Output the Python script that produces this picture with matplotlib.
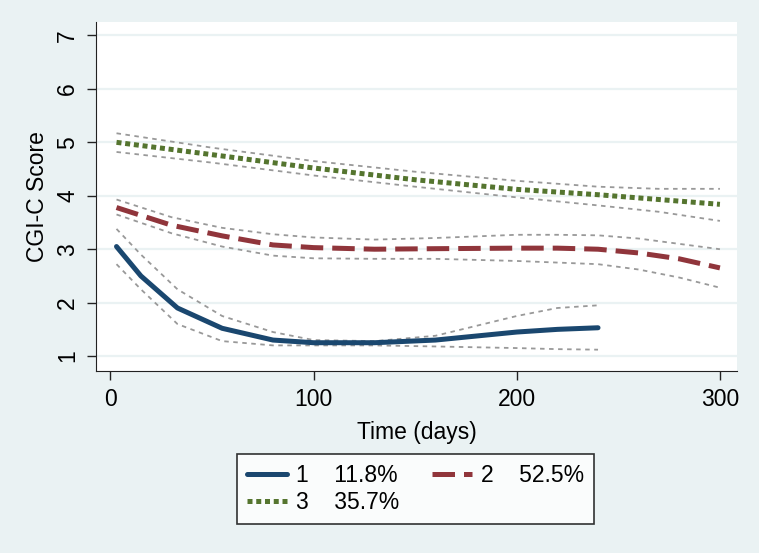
import matplotlib.pyplot as plt
import numpy as np

plt.rcParams['font.family'] = ['Liberation Sans', 'DejaVu Sans']

# group 1 (11.8%)
days1 = [3, 15, 33, 55, 80, 100, 130, 160, 200, 220, 240]
mean1 = [3.05, 2.5, 1.9, 1.52, 1.3, 1.25, 1.25, 1.3, 1.45, 1.5, 1.53]
up1 = [3.38, 2.9, 2.25, 1.75, 1.45, 1.3, 1.28, 1.38, 1.75, 1.9, 1.95]
lo1 = [2.72, 2.25, 1.6, 1.28, 1.2, 1.2, 1.2, 1.18, 1.15, 1.13, 1.12]

# group 2 (52.5%)
days2 = [3, 30, 55, 80, 100, 130, 160, 200, 220, 240, 260, 280, 300]
mean2 = [3.78, 3.45, 3.25, 3.08, 3.03, 3.0, 3.01, 3.02, 3.02, 3.0, 2.93, 2.82, 2.65]
up2 = [3.93, 3.6, 3.4, 3.28, 3.22, 3.18, 3.21, 3.27, 3.27, 3.26, 3.2, 3.1, 3.0]
lo2 = [3.65, 3.3, 3.05, 2.88, 2.83, 2.82, 2.82, 2.78, 2.75, 2.72, 2.62, 2.47, 2.28]

# group 3 (35.7%)
days3 = [3, 50, 100, 150, 200, 240, 270, 300]
mean3 = [5.0, 4.77, 4.52, 4.3, 4.12, 4.02, 3.93, 3.84]
up3 = [5.17, 4.9, 4.65, 4.45, 4.28, 4.17, 4.13, 4.13]
lo3 = [4.82, 4.62, 4.38, 4.17, 3.97, 3.82, 3.7, 3.53]

labels = ['1    11.8%', '2    52.5%', '3    35.7%']
colors = ['#1a476f', '#90353b', '#55752f']

bg = '#eaf2f3'
fs = 16.5
fig = plt.figure(figsize=(7.59, 5.53), dpi=100, facecolor=bg)
ax = fig.add_axes([0.127, 0.33, 0.844, 0.63])
ax.set_facecolor('white')

for y in range(1, 8):
    ax.axhline(y, color=bg, lw=1.6, zorder=0)

ci = dict(color='#999999', lw=1.3, ls=(0, (2.5, 2.5)), zorder=1)
for d, u, l in [(days1, up1, lo1), (days2, up2, lo2), (days3, up3, lo3)]:
    ax.plot(d, u, **ci)
    ax.plot(d, l, **ci)

h1, = ax.plot(days1, mean1, color=colors[0], lw=3.6, solid_capstyle='round', zorder=3)
h2, = ax.plot(days2, mean2, color=colors[1], lw=3.6, ls=(0, (4.5, 1.8)), zorder=3)
h3, = ax.plot(days3, mean3, color=colors[2], lw=3.6, ls=(0, (1.0, 0.75)), zorder=3)

ax.set_xlim(-6.9, 308.4)
ax.set_ylim(0.73, 7.25)
ax.set_xticks([0, 100, 200, 300])
ax.set_yticks(range(1, 8))
ax.tick_params(axis='both', direction='out', length=6.5, width=1, pad=6,
               labelsize=fs, color='#222222')
ax.tick_params(axis='y', labelrotation=90)
for t in ax.get_yticklabels():
    t.set_va('center')
ax.spines['top'].set_visible(False)
ax.spines['right'].set_visible(False)
ax.spines['left'].set_color('#222222')
ax.spines['bottom'].set_color('#222222')
ax.set_xlabel('Time (days)', fontsize=fs, labelpad=7)
ax.set_ylabel('CGI-C Score', fontsize=fs, labelpad=5)

# row-major order like the original: 1, 2 / 3
leg = fig.legend([h1, h3, h2], [labels[0], labels[2], labels[1]], ncol=2,
                 loc='center', bbox_to_anchor=(0.5474, 0.1157), fontsize=fs,
                 frameon=True, fancybox=False, edgecolor='black',
                 handlelength=1.75, handletextpad=0.4, columnspacing=1.4,
                 borderpad=0.45, labelspacing=0.15, borderaxespad=0)
leg.get_frame().set_linewidth(1.2)

fig.savefig('out.png', dpi=100, facecolor=bg)
